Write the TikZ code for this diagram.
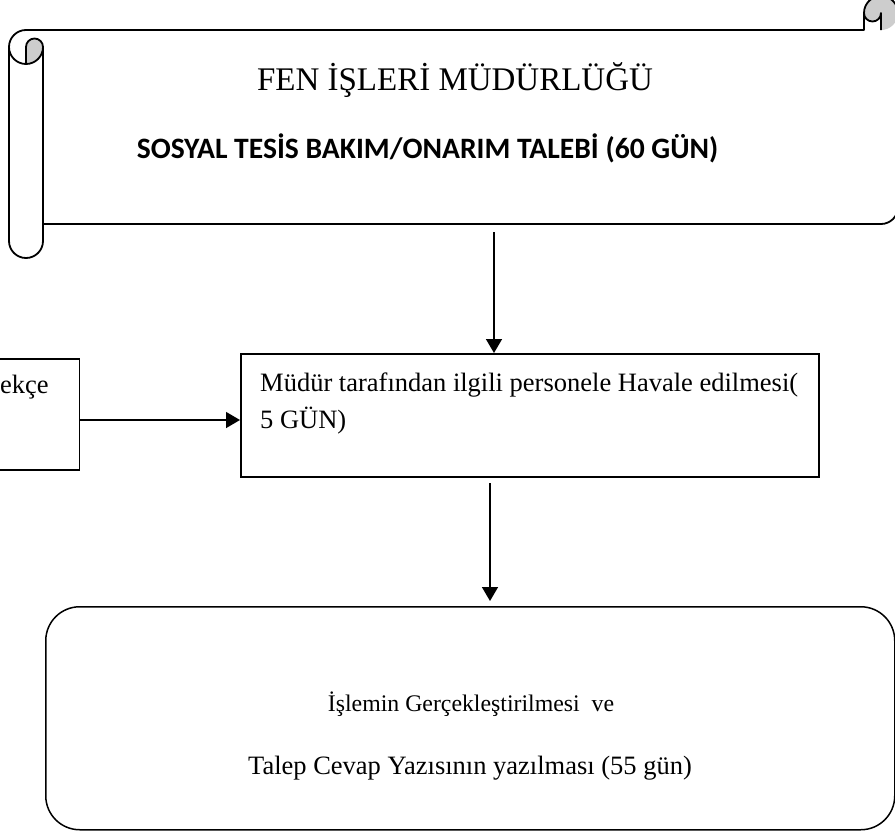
\documentclass[tikz,border=0pt]{standalone}
\usepackage{fontspec}
\setmainfont{Liberation Serif}
\newfontfamily\calfont{Carlito}
\usetikzlibrary{arrows.meta}
\definecolor{curlgray}{HTML}{CDCDCD}
\tikzset{
  outline/.style={line width=1.8pt, line join=round},
  boxshape/.style={draw, line width=1.5pt, inner sep=0pt},
  arr/.style={line width=1.5pt, -{Triangle[length=14pt, width=16pt]}},
  txt/.style={inner sep=0pt, font=\fontsize{26.5}{36}\selectfont},
}
\begin{document}
\begin{tikzpicture}[x=1pt, y=-1pt]
\useasboundingbox (0,0) rectangle (895,836);
% ---- scroll ----
\fill[curlgray] (26,64) arc[start angle=-90, end angle=0, radius=17pt]
   arc[start angle=0, end angle=180, radius=8.5pt] -- cycle;
\fill[curlgray] (881,30) arc[start angle=-90, end angle=180, radius=17pt]
   arc[start angle=180, end angle=360, radius=8.5pt] -- cycle;
\draw[outline] (9,47) arc[start angle=180, end angle=90, radius=17pt]
   -- (864,30) -- (864,13)
   arc[start angle=180, end angle=0, radius=17pt]
   -- (898,207)
   arc[start angle=0, end angle=-90, radius=17pt]
   -- (43,224) -- (43,241)
   arc[start angle=0, end angle=-180, radius=17pt]
   -- cycle;
\draw[outline] (881,30) -- (881,13) arc[start angle=0, end angle=-180, radius=8.5pt];
\draw[outline] (26,64) -- (26,47) arc[start angle=180, end angle=0, radius=8.5pt]
   arc[start angle=0, end angle=-180, radius=17pt];
\draw[outline] (43,47) -- (43,224);
% ---- scroll texts ----
\node[inner sep=0pt, anchor=base, font=\fontsize{33}{40}\selectfont] (title) at (455,90) {FEN İŞLERİ MÜDÜRLÜĞÜ};
\node[inner sep=0pt, anchor=base, font=\calfont\bfseries\fontsize{29.6}{36}\selectfont] (sub) at (427.5,158) {SOSYAL TESİS BAKIM/ONARIM TALEBİ (60 GÜN)};
% ---- boxes ----
\node[boxshape, anchor=north west, minimum width=578pt, minimum height=123pt] (box2) at (240,353) {};
\node[txt, anchor=base west] (b2l1) at (260,391) {Müdür tarafından ilgili personele Havale edilmesi(};
\node[txt, anchor=base west] (b2l2) at (260,428) {5 GÜN)};
\node[boxshape, anchor=north east, minimum width=120pt, minimum height=111pt] (pet) at (80,358) {};
\node[txt, anchor=base west] (petl) at (0,393) {ekçe};
\node[boxshape, rounded corners=34pt, anchor=north west, minimum width=849pt, minimum height=223pt] (box3) at (45,606) {};
\node[inner sep=0pt, anchor=base, font=\fontsize{23.8}{30}\selectfont] (b3l1) at (471,711) {İşlemin Gerçekleştirilmesi \ ve};
\node[txt, anchor=base] (b3l2) at (470,774) {Talep Cevap Yazısının yazılması (55 gün)};
% ---- connectors ----
\coordinate (a1) at (494,232);
\draw[arr] (a1) -- (a1 |- box2.north);
\coordinate (a2) at (80,420);
\draw[arr] (a2) -- (a2 -| box2.west);
\coordinate (a3) at (490,483);
\draw[arr, shorten >=5pt] (a3) -- (a3 |- box3.north);
\end{tikzpicture}
\end{document}
